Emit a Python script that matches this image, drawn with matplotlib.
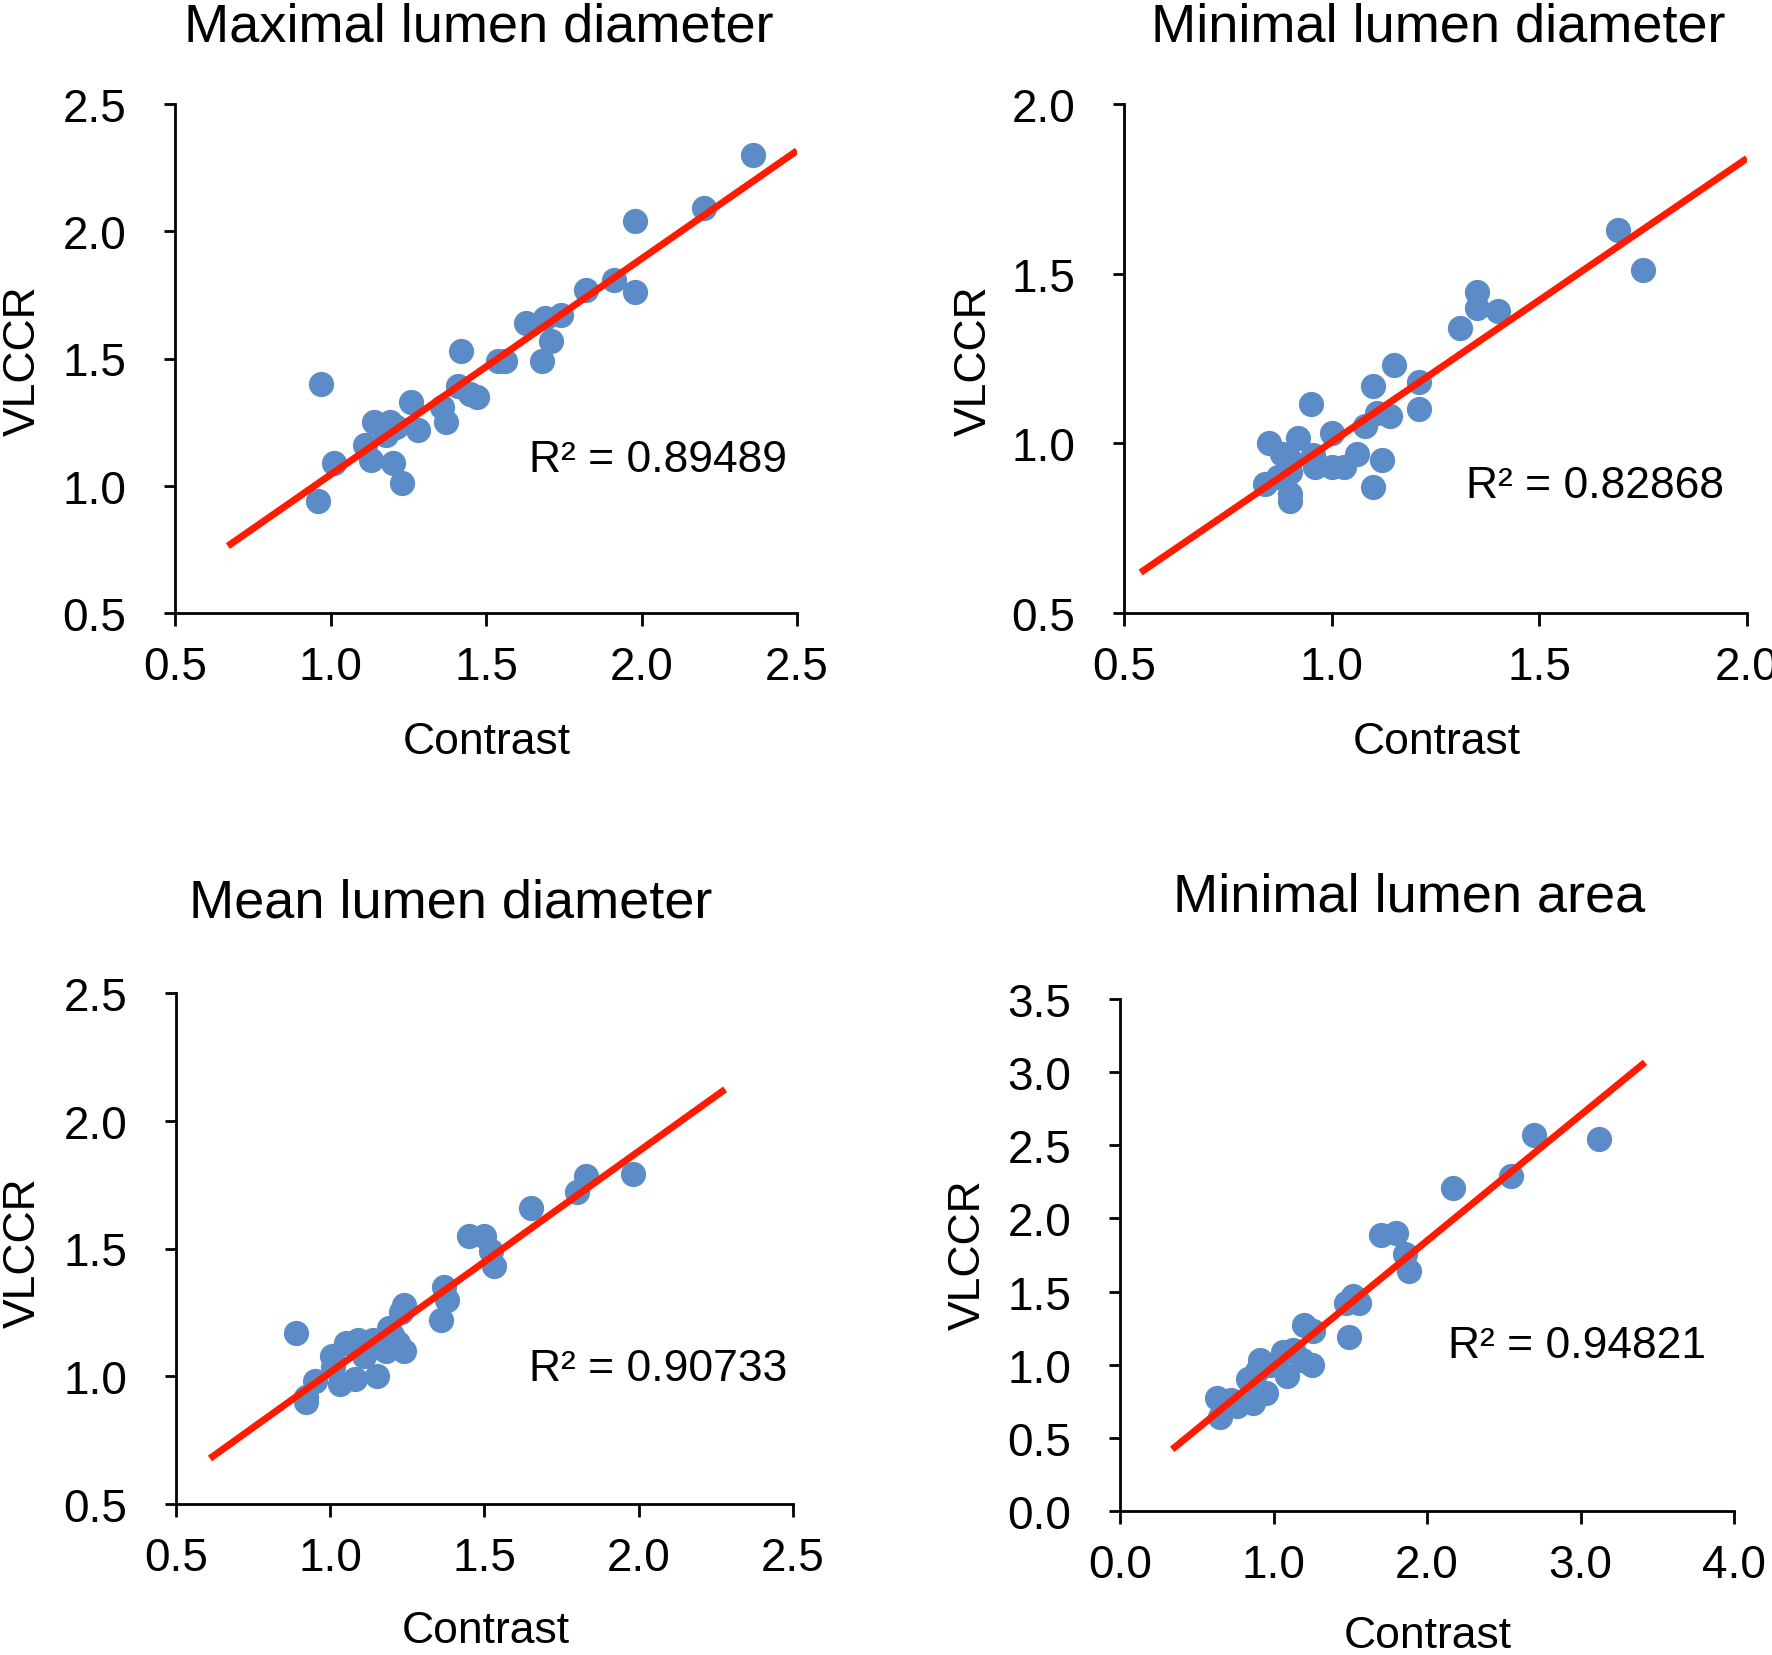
import numpy as np
import matplotlib
matplotlib.use("Agg")
import matplotlib.pyplot as plt

plt.rcParams['font.family'] = ['Liberation Sans', 'DejaVu Sans']

titles = ["Maximal lumen diameter", "Minimal lumen diameter",
          "Mean lumen diameter", "Minimal lumen area"]
r2_labels = ["R\u00b2 = 0.89489", "R\u00b2 = 0.82868", "R\u00b2 = 0.90733", "R\u00b2 = 0.94821"]

x1 = [0.97, 0.96, 1.01, 1.11, 1.13, 1.14, 1.19, 1.18, 1.21, 1.20, 1.23, 1.26, 1.28, 1.36, 1.37, 1.42,
      1.41, 1.45, 1.47, 1.54, 1.56, 1.63, 1.68, 1.69, 1.71, 1.74, 1.82, 1.91, 1.98, 1.98, 2.20, 2.36]
y1 = [1.40, 0.94, 1.09, 1.16, 1.10, 1.25, 1.25, 1.20, 1.23, 1.09, 1.01, 1.33, 1.22, 1.31, 1.25, 1.53,
      1.39, 1.36, 1.35, 1.49, 1.49, 1.64, 1.49, 1.66, 1.57, 1.67, 1.77, 1.81, 1.76, 2.04, 2.09, 2.30]

x2 = [1.69, 1.75, 1.35, 1.35, 1.40, 1.31, 1.15, 1.21, 1.10, 0.95, 1.21, 1.11, 1.14, 1.08, 1.00, 1.06,
      1.12, 1.10, 0.85, 0.92, 0.88, 0.90, 0.96, 1.00, 1.03, 0.84, 0.87, 0.90, 0.90, 0.90, 0.955]
y2 = [1.63, 1.51, 1.445, 1.40, 1.39, 1.34, 1.23, 1.18, 1.17, 1.115, 1.10, 1.09, 1.08, 1.05, 1.03, 0.97,
      0.95, 0.87, 1.00, 1.015, 0.97, 0.95, 0.93, 0.93, 0.93, 0.88, 0.90, 0.915, 0.85, 0.83, 0.965]

x3 = [0.89, 0.92, 0.92, 0.95, 1.005, 1.01, 1.03, 1.05, 1.09, 1.08, 1.11, 1.15, 1.14, 1.18, 1.20, 1.22,
      1.24, 1.24, 1.23, 1.19, 1.36, 1.37, 1.38, 1.45, 1.50, 1.52, 1.53, 1.65, 1.80, 1.83, 1.98]
y3 = [1.17, 0.90, 0.92, 0.98, 1.08, 1.035, 0.97, 1.13, 1.14, 0.99, 1.08, 1.00, 1.14, 1.10, 1.16, 1.13,
      1.10, 1.28, 1.25, 1.19, 1.22, 1.35, 1.30, 1.55, 1.55, 1.49, 1.43, 1.66, 1.72, 1.785, 1.79]

x4 = [3.12, 2.70, 2.55, 2.17, 1.70, 1.80, 1.855, 1.88, 1.49, 1.47, 1.52, 1.56, 1.20, 1.26, 1.25,
      1.09, 1.06, 1.13, 1.185, 0.91, 0.95, 0.865, 0.835, 0.89, 0.76, 0.725, 0.65, 0.63, 0.98]
y4 = [2.54, 2.57, 2.29, 2.21, 1.89, 1.90, 1.755, 1.64, 1.19, 1.42, 1.47, 1.42, 1.27, 1.23, 0.995,
      0.92, 1.09, 1.10, 1.03, 1.03, 0.81, 0.74, 0.905, 0.96, 0.72, 0.76, 0.64, 0.77, 1.00]

# x extent of each trend line
line_x = [[0.67, 2.5], [0.54, 2.0], [0.61, 2.28], [0.34, 3.42]]

xs = [x1, x2, x3, x4]
ys = [y1, y2, y3, y4]
xlims = [(0.5, 2.5), (0.5, 2.0), (0.5, 2.5), (0.0, 4.0)]
ylims = [(0.5, 2.5), (0.5, 2.0), (0.5, 2.5), (0.0, 3.5)]
xsteps = [0.5, 0.5, 0.5, 1.0]
ysteps = [0.5, 0.5, 0.5, 0.5]

W, H = 1772, 1656
fig = plt.figure(figsize=(W / 100, H / 100), dpi=100)

# axes boxes in pixels: left, top, right, bottom
boxes = [(175, 105, 797, 614), (1124, 105, 1747, 614),
         (176, 994, 793, 1505), (1120, 1000, 1734, 1512)]
title_pos = [(479, 27), (1438, 28), (451, 904), (1409, 898)]
r2_pos = [(529, 461), (1466, 487), (529, 1370), (1448, 1347)]
ylab_pos = [(23, 361), (974, 361), (23, 1253), (968, 1255)]
xlab_pos = [(487, 743), (1437, 743), (486, 1632), (1428, 1637)]

blue = '#5b8cc8'
red = '#ff1a00'

def fx(px):
    return px / W

def fy(py):
    return 1 - py / H

for i in range(4):
    l, t, r, b = boxes[i]
    ax = fig.add_axes([fx(l), fy(b), (r - l) / W, (b - t) / H])
    ax.scatter(xs[i], ys[i], s=330, color=blue, linewidths=0, zorder=2)
    k, c = np.polyfit(xs[i], ys[i], 1)
    lx = np.array(line_x[i])
    ax.plot(lx, k * lx + c, color=red, lw=5, zorder=3, solid_capstyle='butt')

    ax.set_xlim(*xlims[i])
    ax.set_ylim(*ylims[i])
    ax.set_xticks(np.arange(xlims[i][0], xlims[i][1] + 1e-9, xsteps[i]))
    ax.set_yticks(np.arange(ylims[i][0], ylims[i][1] + 1e-9, ysteps[i]))
    ax.xaxis.set_major_formatter(matplotlib.ticker.FormatStrFormatter('%.1f'))
    ax.yaxis.set_major_formatter(matplotlib.ticker.FormatStrFormatter('%.1f'))
    for side in ['top', 'right']:
        ax.spines[side].set_visible(False)
    for side in ['left', 'bottom']:
        ax.spines[side].set_linewidth(2)
    ax.tick_params(axis='x', direction='out', length=9, width=2, pad=14, labelsize=33)
    ax.tick_params(axis='y', direction='out', length=8, width=2, pad=27, labelsize=33)

    fig.text(fx(title_pos[i][0]), fy(title_pos[i][1]), titles[i], fontsize=39,
             ha='center', va='center')
    fig.text(fx(r2_pos[i][0]), fy(r2_pos[i][1]), r2_labels[i], fontsize=32,
             ha='left', va='center')
    fig.text(fx(ylab_pos[i][0]), fy(ylab_pos[i][1]), 'VLCCR', fontsize=32,
             ha='center', va='center', rotation=90)
    fig.text(fx(xlab_pos[i][0]), fy(xlab_pos[i][1]), 'Contrast', fontsize=32,
             ha='center', va='center')

fig.savefig('out.png', dpi=100, facecolor='white')
